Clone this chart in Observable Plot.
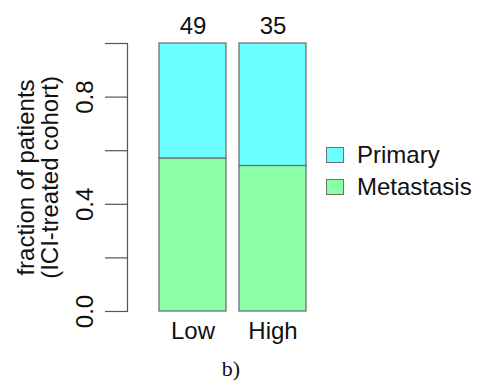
<!DOCTYPE html>
<html>
<head>
<meta charset="utf-8">
<script src="https://cdn.jsdelivr.net/npm/d3@7"></script>
<script src="https://cdn.jsdelivr.net/npm/@observablehq/plot@0.6"></script>
<style>
  html, body { margin: 0; padding: 0; background: #fff; }
  #wrap { position: relative; width: 486px; height: 387px; font-family: "Liberation Sans", Arial, Helvetica, sans-serif; }
  #legend { position: absolute; left: 326px; top: 139px; font-size: 24px; color: #111; }
  .item { display: flex; align-items: center; height: 32px; }
  .sw { width: 16px; height: 14px; border: 1.2px solid #707070; margin-right: 13px; }
  #caption { position: absolute; left: 0; width: 462px; top: 356px; text-align: center; font-family: "Liberation Serif", "Times New Roman", serif; font-size: 22px; color: #111; }
</style>
</head>
<body>
<div id="wrap"></div>
<script>
// Data
const categories = ["Low", "High"];
const groups = ["Metastasis", "Primary"];           // stacking order (bottom to top)
const metastasisFraction = [0.571, 0.543];
const primaryFraction = [0.429, 0.457];
const counts = [49, 35];
const yTicks = [0, 0.2, 0.4, 0.6, 0.8, 1.0];
const yTickLabels = [0, 0.4, 0.8];
const colors = { Primary: "#6cffff", Metastasis: "#8bffa8" };
const legendOrder = ["Primary", "Metastasis"];

const rows = [];
categories.forEach((c, i) => {
  rows.push({ cat: c, group: "Metastasis", value: metastasisFraction[i] });
  rows.push({ cat: c, group: "Primary", value: primaryFraction[i] });
});
const countRows = categories.map((c, i) => ({ cat: c, n: counts[i] }));

const font = "Liberation Sans, Arial, Helvetica, sans-serif";

const chart = Plot.plot({
  width: 486,
  height: 345,
  marginTop: 43,
  marginBottom: 34,
  marginLeft: 127,
  marginRight: 179,
  style: { fontFamily: font, fontSize: "24px", color: "#111", background: "white" },
  x: { domain: categories, insetLeft: 31, paddingInner: 0.16, paddingOuter: 0, axis: null },
  y: { domain: [0, 1], axis: null },
  color: { domain: groups, range: groups.map(g => colors[g]) },
  marks: [
    Plot.barY(rows, {
      x: "cat", y: "value", fill: "group",
      order: groups, stroke: "#707070", strokeWidth: 1.3
    }),
    Plot.axisX({ tickSize: 0, tickPadding: 10, label: null, fontSize: 24 }),
    Plot.frame({ anchor: "left", stroke: "#555", strokeWidth: 1.2 }),
    Plot.axisY({ ticks: yTicks, tickSize: 22, tickFormat: () => "", label: null, stroke: "#555", strokeWidth: 1.2 }),
    Plot.text(yTickLabels, {
      y: d => d, text: d => d.toFixed(1), frameAnchor: "left", textAnchor: "middle",
      dx: -42, rotate: -90, fontSize: 24, fill: "#111"
    }),
    Plot.text(["fraction of patients\n(ICI-treated cohort)"], {
      y: () => 0.5, text: d => d, frameAnchor: "left", textAnchor: "middle",
      dx: -89, rotate: -90, fontSize: 24, lineHeight: 1.0, fill: "#111"
    }),
    Plot.text(countRows, {
      x: "cat", y: () => 1, text: "n", dy: -17, fontSize: 24, fill: "#111"
    })
  ]
});

const wrap = document.getElementById("wrap");
wrap.appendChild(chart);

const legend = document.createElement("div");
legend.id = "legend";
legendOrder.forEach(g => {
  const item = document.createElement("div");
  item.className = "item";
  const sw = document.createElement("div");
  sw.className = "sw";
  sw.style.background = colors[g];
  const label = document.createElement("span");
  label.textContent = g;
  item.appendChild(sw);
  item.appendChild(label);
  legend.appendChild(item);
});
wrap.appendChild(legend);

const caption = document.createElement("div");
caption.id = "caption";
caption.textContent = "b)";
wrap.appendChild(caption);
</script>
</body>
</html>
